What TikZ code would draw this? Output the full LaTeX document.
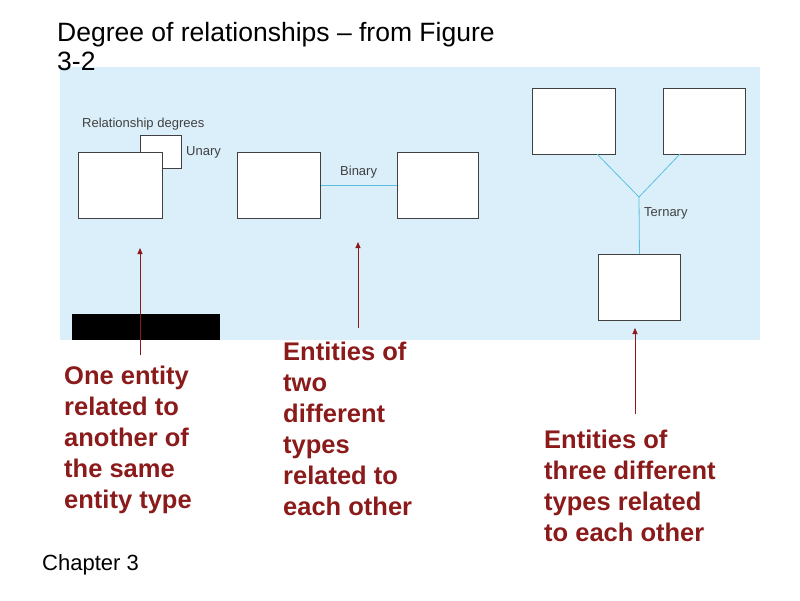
\documentclass[tikz,border=0pt]{standalone}
\usepackage{fontspec}
\setmainfont{Liberation Sans}
\usetikzlibrary{arrows.meta}
\definecolor{bgblue}{HTML}{DBEFFA}
\definecolor{lnblue}{HTML}{5BC0DE}
\definecolor{darkred}{HTML}{8B1A1A}
\begin{document}
\begin{tikzpicture}[x=1pt,y=-1pt,
  ent/.style={draw=black!75,fill=white,line width=0.9pt},
  rel/.style={draw=lnblue,line width=0.8pt},
  pointer/.style={draw=darkred,line width=0.9pt,-{Triangle[length=6pt,width=5pt]}},
  lbl/.style={font=\fontsize{13}{15}\selectfont\color{black!75},anchor=west,inner sep=0},
  note/.style={font=\bfseries\fontsize{25.5}{31}\selectfont,text=darkred,align=left,anchor=north west,inner sep=0}]
\useasboundingbox (0,0) rectangle (800,600);
\fill[bgblue] (60,67) rectangle (760,340);
\fill[black] (72,314) rectangle (220,340);
\node[anchor=north west,inner sep=0,align=left,font=\fontsize{26.5}{29}\selectfont] (title) at (57,22) {Degree of relationships -- from Figure\\3-2};
\node[lbl] (rd) at (82,124) {Relationship degrees};
% unary
\draw[ent] (140,135) rectangle (181,168);
\node[ent,minimum width=84,minimum height=66,inner sep=0,anchor=north west] (u1) at (78,152) {};
\node[lbl] (ul) at (186,152) {Unary};
% binary
\node[ent,minimum width=83,minimum height=66,inner sep=0,anchor=north west] (b1) at (237,152) {};
\node[ent,minimum width=81,minimum height=66,inner sep=0,anchor=north west] (b2) at (397,152) {};
\draw[rel] (b1.east) -- (b2.west);
\node[lbl] (bl) at (340,172) {Binary};
% ternary
\node[ent,minimum width=83,minimum height=66,inner sep=0,anchor=north west] (t1) at (532,88) {};
\node[ent,minimum width=82,minimum height=66,inner sep=0,anchor=north west] (t2) at (663,88) {};
\node[ent,minimum width=82,minimum height=66,inner sep=0,anchor=north west] (t3) at (598,254) {};
\coordinate (j) at (639,197);
\draw[rel] (597,154) -- (j) -- (680,154);
\draw[rel] (j) -- (t3.north);
\node[lbl] (tl) at (644,213) {Ternary};
% pointers
\node[note] (n1) at (64,366) {One entity\\related to\\another of\\the same\\entity type};
\node[note] (n2) at (283,342) {Entities of\\two\\different\\types\\related to\\each other};
\node[note] (n3) at (544,430) {Entities of\\three different\\types related\\to each other};
\coordinate (a1) at (140,355); \coordinate (a2) at (358,328); \coordinate (a3) at (635,414);
\draw[pointer] (a1) -- (140,248);
\draw[pointer] (a2) -- (358,242);
\draw[pointer] (a3) -- (635,328);
\node[anchor=west,inner sep=0,font=\fontsize{22}{24}\selectfont] (ch) at (42,565) {Chapter 3};
\end{tikzpicture}
\end{document}
